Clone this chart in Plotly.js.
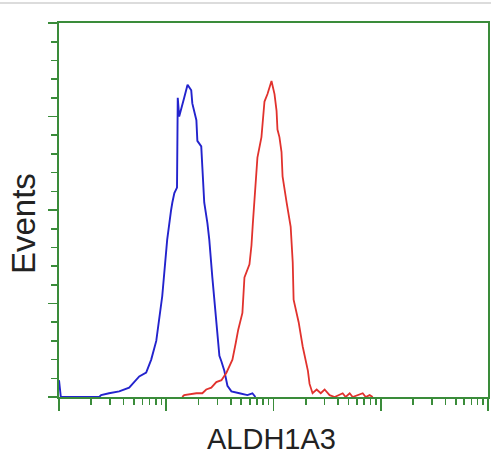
<!DOCTYPE html>
<html>
<head>
<meta charset="utf-8">
<script src="https://cdn.plot.ly/plotly-3.0.1.min.js"></script>
<style>html,body{margin:0;padding:0;background:#fff;}#chart{width:491px;height:475px;}</style>
</head>
<body>
<div id="chart"></div>
<script>
// Isotype control (blue): fluorescence intensity and event counts
const blueX = [1, 1.04, 2.37, 2.47, 2.93, 3.64, 4.51, 5.60, 6.50, 7.24, 8.07, 9.18, 10.2, 10.7, 11.1, 11.4, 11.9, 12.6, 12.8, 13.2, 14.0, 14.7, 15.8, 17.1, 17.5, 19.1, 19.5, 21.2, 21.7, 22.6, 24.2, 25.2, 26.9, 29.3, 31.3, 32.7, 34.8, 37.2, 40.5, 48.1, 57.1, 63.6, 67.9];
const blueY = [9, 0, 0, 1, 2, 3, 5, 11, 13, 20, 30, 54, 84, 95, 100, 104, 109, 112, 160, 150, 155, 160, 167, 164, 157, 148, 137, 134, 123, 104, 93, 84, 64, 41, 22, 19, 14, 6, 3, 2, 1, 2, 0];

// ALDH1A3 antibody (red): fluorescence intensity and event counts
const redX = [14.1, 14.7, 19.1, 21.7, 23.6, 26.3, 29.3, 32.7, 36.4, 38.3, 41.4, 44.5, 46.9, 51.3, 53.6, 59.7, 62.3, 64.2, 66.4, 68.8, 70.8, 77.2, 82.4, 87.9, 95.8, 102.2, 106.8, 108.9, 113.6, 118.8, 121.5, 132.6, 144.6, 151.1, 154.0, 171.6, 187.2, 209.4, 216.9, 231.3, 252.6, 275.8, 299.7, 333.5, 371.4, 441.6, 470.9, 513.3, 547.1, 678.9, 724.4, 788.1, 841.7];
const redY = [0, 1, 2, 2, 4, 5, 8, 9, 13, 16, 20, 29, 36, 45, 64, 71, 81, 93, 107, 120, 128, 139, 158, 162, 169, 162, 153, 143, 139, 131, 118, 104, 91, 72, 52, 40, 27, 14, 7, 2, 4, 2, 4, 1, 0, 2, 0, 2, 0, 2, 0, 1, 0];

const xTitle = "ALDH1A3";
const yTitle = "Events";

const green = "rgb(58,140,58)";
const minorX = [];
for (let d = 0; d < 4; d++) for (let k = 2; k <= 9; k++) minorX.push(k * Math.pow(10, d));

const traces = [
  {x: blueX, y: blueY, type: "scatter", mode: "lines", line: {color: "rgb(35,35,205)", width: 1.9}, hoverinfo: "skip"},
  {x: redX, y: redY, type: "scatter", mode: "lines", line: {color: "rgb(225,50,45)", width: 1.8}, hoverinfo: "skip"}
];

const layout = {
  width: 491, height: 475,
  margin: {l: 59, r: 3, t: 23, b: 78},
  paper_bgcolor: "#fff", plot_bgcolor: "#fff",
  showlegend: false,
  xaxis: {
    type: "log", range: [0, 4], showgrid: false, zeroline: false,
    showline: true, linecolor: green, linewidth: 2.2, mirror: true,
    ticks: "outside", tickvals: [1, 10, 100, 1000, 10000], ticklen: 12, tickwidth: 1.8, tickcolor: green,
    showticklabels: false,
    minor: {tickmode: "array", tickvals: minorX, ticks: "outside", ticklen: 6, tickwidth: 1.6, tickcolor: green, showgrid: false}
  },
  yaxis: {
    range: [0, 200], showgrid: false, zeroline: false,
    showline: true, linecolor: green, linewidth: 2.2, mirror: true,
    ticks: "outside", dtick: 50, ticklen: 9, tickwidth: 1.8, tickcolor: green,
    showticklabels: false,
    minor: {dtick: 10, ticks: "outside", ticklen: 6, tickwidth: 1.6, tickcolor: green, showgrid: false}
  },
  annotations: [
    {text: yTitle, xref: "paper", yref: "paper", x: -0.084, y: 0.465, xanchor: "center", yanchor: "middle",
     textangle: -90, showarrow: false, font: {family: "Liberation Sans, Arial, sans-serif", size: 33, color: "#222"}},
    {text: xTitle, xref: "paper", yref: "paper", x: 0.4965, y: -0.112, xanchor: "center", yanchor: "middle",
     showarrow: false, font: {family: "Liberation Sans, Arial, sans-serif", size: 29, color: "#222"}}
  ],
  shapes: [
    {type: "line", xref: "paper", yref: "paper", x0: -0.2, x1: 1.1, y0: 1.0535, y1: 1.0535, line: {color: "#dcdcdc", width: 2}}
  ]
};

Plotly.newPlot("chart", traces, layout, {staticPlot: true, displayModeBar: false});
</script>
</body>
</html>
